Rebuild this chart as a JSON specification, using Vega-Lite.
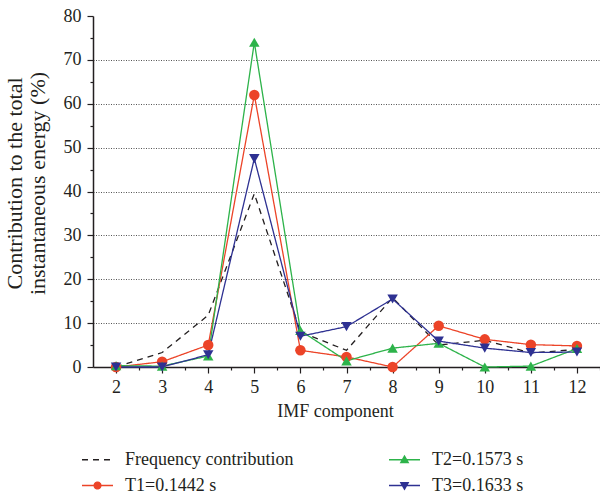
{
  "$schema": "https://vega.github.io/schema/vega-lite/v6.json",
  "width": 507,
  "height": 351,
  "autosize": {"type": "none"},
  "padding": {"left": 93, "top": 16, "right": 0, "bottom": 131},
  "config": {"view": {"stroke": null}, "font": "Liberation Serif"},
  "data": {
    "values": [
      {"imf": 2, "series": "Frequency contribution", "value": 0},
      {"imf": 3, "series": "Frequency contribution", "value": 3.3},
      {"imf": 4, "series": "Frequency contribution", "value": 11.8},
      {"imf": 5, "series": "Frequency contribution", "value": 39.5},
      {"imf": 6, "series": "Frequency contribution", "value": 8},
      {"imf": 7, "series": "Frequency contribution", "value": 3.8},
      {"imf": 8, "series": "Frequency contribution", "value": 15.8},
      {"imf": 9, "series": "Frequency contribution", "value": 5},
      {"imf": 10, "series": "Frequency contribution", "value": 6.1},
      {"imf": 11, "series": "Frequency contribution", "value": 3.2},
      {"imf": 12, "series": "Frequency contribution", "value": 4},
      {"imf": 2, "series": "T1=0.1442 s", "value": 0},
      {"imf": 3, "series": "T1=0.1442 s", "value": 1.2},
      {"imf": 4, "series": "T1=0.1442 s", "value": 5},
      {"imf": 5, "series": "T1=0.1442 s", "value": 62},
      {"imf": 6, "series": "T1=0.1442 s", "value": 3.8},
      {"imf": 7, "series": "T1=0.1442 s", "value": 2.3},
      {"imf": 8, "series": "T1=0.1442 s", "value": 0},
      {"imf": 9, "series": "T1=0.1442 s", "value": 9.4},
      {"imf": 10, "series": "T1=0.1442 s", "value": 6.3},
      {"imf": 11, "series": "T1=0.1442 s", "value": 5.1},
      {"imf": 12, "series": "T1=0.1442 s", "value": 4.8},
      {"imf": 2, "series": "T2=0.1573 s", "value": 0.3},
      {"imf": 3, "series": "T2=0.1573 s", "value": 0.2},
      {"imf": 4, "series": "T2=0.1573 s", "value": 2.5},
      {"imf": 5, "series": "T2=0.1573 s", "value": 74},
      {"imf": 6, "series": "T2=0.1573 s", "value": 8.3},
      {"imf": 7, "series": "T2=0.1573 s", "value": 1.4},
      {"imf": 8, "series": "T2=0.1573 s", "value": 4.3},
      {"imf": 9, "series": "T2=0.1573 s", "value": 5.4},
      {"imf": 10, "series": "T2=0.1573 s", "value": 0},
      {"imf": 11, "series": "T2=0.1573 s", "value": 0.2},
      {"imf": 12, "series": "T2=0.1573 s", "value": 4.2},
      {"imf": 2, "series": "T3=0.1633 s", "value": 0},
      {"imf": 3, "series": "T3=0.1633 s", "value": 0},
      {"imf": 4, "series": "T3=0.1633 s", "value": 2.8},
      {"imf": 5, "series": "T3=0.1633 s", "value": 47.5},
      {"imf": 6, "series": "T3=0.1633 s", "value": 7},
      {"imf": 7, "series": "T3=0.1633 s", "value": 9.2},
      {"imf": 8, "series": "T3=0.1633 s", "value": 15.5},
      {"imf": 9, "series": "T3=0.1633 s", "value": 5.9},
      {"imf": 10, "series": "T3=0.1633 s", "value": 4.3},
      {"imf": 11, "series": "T3=0.1633 s", "value": 3.3},
      {"imf": 12, "series": "T3=0.1633 s", "value": 3.4}
    ]
  },
  "encoding": {
    "x": {
      "field": "imf", "type": "quantitative",
      "scale": {"domain": [1.5, 12.5], "nice": false, "zero": false},
      "axis": {
        "values": [2, 2.5, 3, 3.5, 4, 4.5, 5, 5.5, 6, 6.5, 7, 7.5, 8, 8.5, 9, 9.5, 10, 10.5, 11, 11.5, 12, 12.5],
        "labelExpr": "datum.value % 1 === 0 ? format(datum.value, 'd') : ''",
        "tickSize": {"condition": {"test": "datum.value % 1 !== 0", "value": 3}, "value": 6},
        "grid": false,
        "domainColor": "#231f20", "domainWidth": 1.5,
        "tickColor": "#231f20", "tickWidth": 1.2,
        "labelFontSize": 18, "labelColor": "#231f20", "labelPadding": 5, "labelFlush": false,
        "title": "IMF component", "titleFontSize": 18, "titleFontWeight": "normal", "titleColor": "#231f20", "titlePadding": 6,
        "titleX": 242
      }
    },
    "y": {
      "field": "value", "type": "quantitative",
      "scale": {"domain": [0, 80], "nice": false},
      "axis": {
        "values": [0, 5, 10, 15, 20, 25, 30, 35, 40, 45, 50, 55, 60, 65, 70, 75, 80],
        "labelExpr": "datum.value % 10 === 0 ? datum.label : ''",
        "tickSize": {"condition": {"test": "datum.value % 10 !== 0", "value": 3}, "value": 6},
        "grid": true,
        "gridDash": [1, 1.5], "gridColor": "#555555", "gridWidth": 1,
        "gridOpacity": {"condition": {"test": "datum.value % 10 !== 0 || datum.value === 80 || datum.value === 0", "value": 0}, "value": 1},
        "domainColor": "#231f20", "domainWidth": 1.5,
        "tickColor": "#231f20", "tickWidth": 1.2,
        "labelFontSize": 18, "labelColor": "#231f20", "labelPadding": 6,
        "title": ["Contribution to the total", "instantaneous energy (%)"],
        "titleFontSize": 22, "titleFontWeight": "normal", "titleColor": "#231f20",
        "titleX": -67, "titleY": 167, "titleLineHeight": 23
      }
    },
    "color": {
      "field": "series", "type": "nominal",
      "scale": {
        "domain": ["Frequency contribution", "T1=0.1442 s", "T2=0.1573 s", "T3=0.1633 s"],
        "range": ["#231f20", "#ec4428", "#2db34a", "#2e3192"]
      },
      "legend": {
        "orient": "none", "legendX": -12, "legendY": 427, "columns": 2,
        "title": null, "padding": 0,
        "symbolSize": 961, "symbolStrokeWidth": 1.3,
        "labelFontSize": 18, "labelFont": "Liberation Serif", "labelColor": "#231f20", "labelLimit": 400,
        "labelOffset": 11, "columnPadding": 92, "rowPadding": -8,
        "encode": {
          "symbols": {
            "update": {
              "shape": {"signal": "datum.value === 'T1=0.1442 s' ? 'M-1,0H1M0.22,0A0.22,0.22 0 1,1 -0.22,0A0.22,0.22 0 1,1 0.22,0Z' : datum.value === 'T2=0.1573 s' ? 'M-1,0H1M0,-0.24L0.24,0.18L-0.24,0.18Z' : datum.value === 'T3=0.1633 s' ? 'M-1,0H1M0,0.24L0.24,-0.18L-0.24,-0.18Z' : 'M-1,0H1'"},
              "fill": {"signal": "datum.value === 'T1=0.1442 s' ? '#ec4428' : datum.value === 'T2=0.1573 s' ? '#2db34a' : datum.value === 'T3=0.1633 s' ? '#2e3192' : 'transparent'"},
              "stroke": {"signal": "datum.value === 'T1=0.1442 s' ? '#ec4428' : datum.value === 'T2=0.1573 s' ? '#2db34a' : datum.value === 'T3=0.1633 s' ? '#2e3192' : '#231f20'"},
              "strokeDash": {"signal": "datum.value === 'Frequency contribution' ? [6, 6] : [1, 0]"},
              "opacity": {"value": 1}
            }
          }
        }
      }
    }
  },
  "layer": [
    {
      "mark": {"type": "line", "strokeWidth": 1.3},
      "encoding": {
        "strokeDash": {
          "field": "series", "type": "nominal",
          "scale": {
            "domain": ["Frequency contribution", "T1=0.1442 s", "T2=0.1573 s", "T3=0.1633 s"],
            "range": [[6, 5], [1, 0], [1, 0], [1, 0]]
          },
          "legend": null
        }
      }
    },
    {
      "transform": [{"filter": "datum.series !== 'Frequency contribution'"}],
      "mark": {"type": "point", "filled": true, "opacity": 1, "size": 110},
      "encoding": {
        "shape": {
          "field": "series", "type": "nominal",
          "scale": {
            "domain": ["T1=0.1442 s", "T2=0.1573 s", "T3=0.1633 s"],
            "range": ["circle", "triangle-up", "triangle-down"]
          },
          "legend": null
        }
      }
    }
  ]
}
